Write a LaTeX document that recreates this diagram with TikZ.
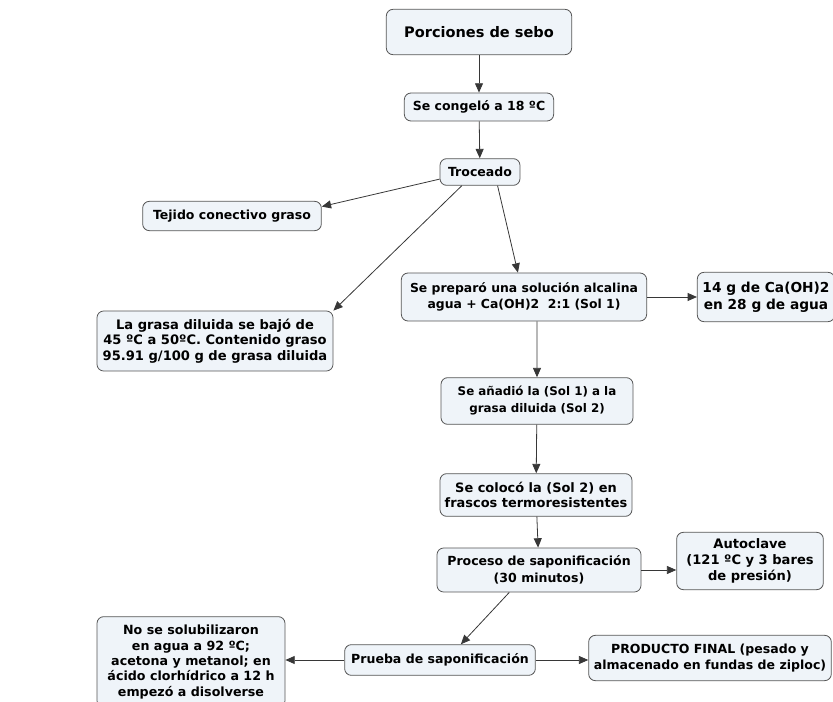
\documentclass[tikz,border=0pt]{standalone}
\usepackage{fontspec}
\setmainfont{DejaVu Sans}
\usetikzlibrary{arrows.meta}

\newcommand{\letra}[2]{\bfseries\fontsize{#1}{#2}\selectfont}

\tikzset{
  paso/.style={draw={rgb, 255:red, 85; green, 85; blue, 85 }, fill={rgb, 255:red, 239; green, 244; blue, 249 }, line width=0.6pt, rounded corners=5pt, inner sep=0.75pt, align=center, font=\letra{9.4}{12}},
  flecha/.style={draw={rgb, 255:red, 55; green, 55; blue, 55 }, line width=0.6pt, -{Triangle[length=7pt,width=6pt]}}
}

\begin{document}
\begin{tikzpicture}[x=0.75pt,y=0.75pt,yscale=-1,xscale=1]
\useasboundingbox (0,0) rectangle (833,702);

% Nodes (centre of each box)
\node [paso, minimum width=139pt, minimum height=34pt, font=\letra{10.9}{13}] (sebo) at (479,32) {Porciones de sebo};
\node [paso, minimum width=112pt, minimum height=21pt] (congelo) at (479,107) {Se congeló a 18 ºC};
\node [paso, minimum width=60pt, minimum height=20pt] (troceado) at (480,172) {Troceado};
\node [paso, minimum width=134pt, minimum height=22pt] (tejido) at (232,216) {Tejido conectivo graso};
\node [paso, minimum width=177pt, minimum height=45pt, font=\letra{9.8}{11.4}] (grasa) at (215,341) {La grasa diluida se bajó de\\45 ºC a 50ºC. Contenido graso\\95.91 g/100 g de grasa diluida};
\node [paso, minimum width=184pt, minimum height=36pt, font=\letra{9.3}{12}] (prepara) at (524,297) {Se preparó una solución alcalina\\agua + Ca(OH)2~~2:1 (Sol 1)};
\node [paso, minimum width=103pt, minimum height=37pt, font=\letra{10.3}{12.5}] (caoh) at (766,297) {14 g de Ca(OH)2\\en 28 g de agua};
\node [paso, minimum width=144pt, minimum height=35pt, font=\letra{8.9}{12.7}] (anadio) at (537,401) {Se añadió la (Sol 1) a la\\grasa diluida (Sol 2)};
\node [paso, minimum width=144pt, minimum height=32pt, font=\letra{9.7}{11.4}] (coloco) at (536,495) {Se colocó la (Sol 2) en\\frascos termoresistentes};
\node [paso, minimum width=153pt, minimum height=33pt, font=\letra{9.4}{12.5}] (proceso) at (539,570) {Proceso de saponificación\\(30 minutos)};
\node [paso, minimum width=110pt, minimum height=43pt, font=\letra{9.8}{12}] (autoclave) at (750,561) {Autoclave\\(121 ºC y 3 bares\\de presión)};
\node [paso, minimum width=143pt, minimum height=23pt] (prueba) at (440,660) {Prueba de saponificación};
\node [paso, minimum width=141pt, minimum height=68pt, font=\letra{9.5}{11.6}] (nosolub) at (191,662) {No se solubilizaron\\en agua a 92 ºC;\\acetona y metanol; en\\ácido clorhídrico a 12 h\\empezó a disolverse};
\node [paso, minimum width=182pt, minimum height=34pt, font=\letra{9.4}{11.4}] (producto) at (710,658) {PRODUCTO FINAL (pesado y\\almacenado en fundas de ziploc)};

% Connectors
\draw [flecha] (sebo) -- (congelo);
\draw [flecha] (congelo) -- (troceado);
\draw [flecha] (troceado.190) -- (tejido.6);
\draw [flecha] (troceado.217) -- (grasa.north east);
\draw [flecha] (troceado.322) -- (prepara.104);
\draw [flecha] (prepara) -- (caoh);
\draw [flecha] (prepara.298) -- (anadio.north);
\draw [flecha] (anadio) -- (coloco);
\draw [flecha] (coloco) -- (proceso);
\draw [flecha] (proceso.east) -- (proceso.east -| autoclave.west);
\draw [flecha] (proceso.217) -- (prueba.37);
\draw [flecha] (prueba.west) -- (prueba.west -| nosolub.east);
\draw [flecha] (prueba.east) -- (prueba.east -| producto.west);

\end{tikzpicture}
\end{document}
